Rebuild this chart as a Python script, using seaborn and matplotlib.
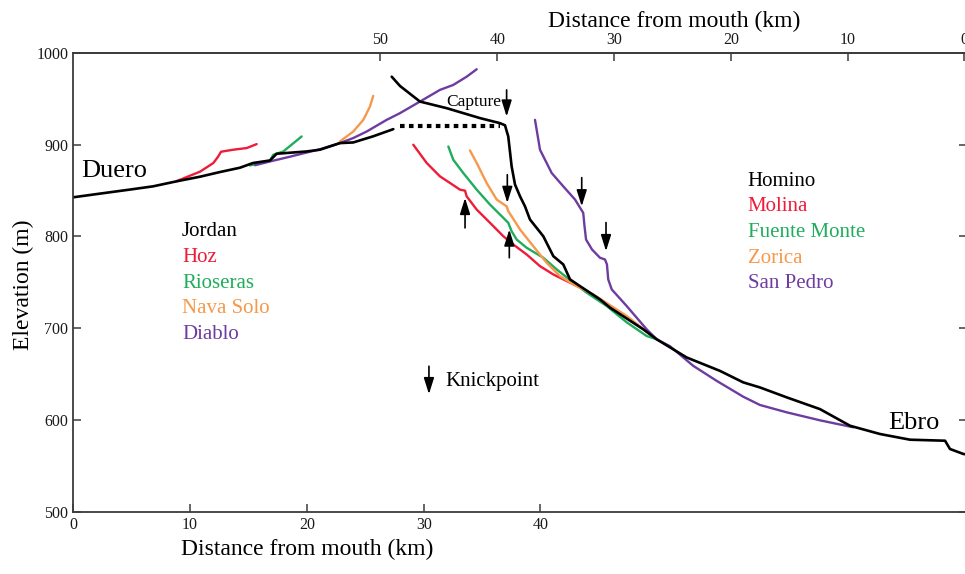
import matplotlib
matplotlib.use("Agg")
import matplotlib.pyplot as plt
import numpy as np
import pandas as pd
import seaborn as sns

# ---------------- data (km from left / elevation m) ----------------
duero_km = [0, 2.29, 4.85, 6.82, 8.85, 10.85, 12.56, 14.27, 15.38, 16.84, 17.41, 18.55,
            19.98, 21.12, 22.83, 23.97, 25.68, 27.4]
duero_el = [842.6, 846.6, 851, 854.5, 860, 865, 870.1, 874.8, 879.9, 882.7, 890, 891.1,
            892.5, 894.4, 901.6, 902.3, 909, 916.8]

capture_km = [28.0, 36.5]
capture_el = [919.7, 919.7]

ebro_km = [27.26, 27.97, 29.68, 31.97, 34.82, 36.53, 36.96, 37.24, 37.53, 37.82, 38.25, 38.67,
           39.1, 39.67, 40.24, 41.1, 41.95, 42.53, 43.38, 45.09, 45.95, 48.8, 49.95, 52.52,
           55.37, 57.36, 58.79, 61.08, 63.93, 66.5, 69.07, 71.64, 74.64, 75.06, 76.2, 76.8]
ebro_el = [973.9, 963.8, 946.8, 939.6, 928.8, 923.3, 921, 908.8, 876.2, 856.4, 843.6, 832.8,
           818.4, 809.3, 800.2, 778.5, 769.5, 753.2, 745.9, 731.5, 722.5, 698.9, 688, 668.2,
           653.6, 641.1, 635.6, 624.8, 612, 593.9, 584.9, 578.7, 577.6, 568.6, 563.2, 562]

hoz_km = [8.85, 10.85, 11.99, 12.39, 12.65, 13.7, 14.85, 15.7]
hoz_el = [860.2, 870.5, 879.9, 886.7, 892.2, 894.4, 896.2, 900.5]

rioseras_km = [15.13, 16.84, 17.12, 17.98, 19.55]
rioseras_el = [877.3, 882.4, 888.9, 892.5, 908.8]

navasolo_km = [22.83, 23.97, 24.83, 25.4, 25.68]
navasolo_el = [903.4, 914.2, 926.9, 941.4, 953]

diablo_km = [15.56, 16.84, 18.55, 21.12, 22.83, 23.97, 25.12, 26.83, 27.97, 29.68, 31.39,
             32.53, 33.68, 34.54]
diablo_el = [877.5, 881.6, 886.8, 894.9, 901.6, 907.1, 914.2, 926.9, 934.2, 946.8, 959.5,
             964.9, 973.9, 982]

molina_km = [29.11, 30.26, 31.39, 32.25, 33.11, 33.54, 33.68, 34.54, 35.68, 36.82, 37.67,
             38.82, 39.96, 41.1, 42.24, 43.38]
molina_el = [899.8, 879.9, 865.4, 858.2, 850.9, 849.8, 843.6, 829.2, 814.8, 800.2, 791.2,
             780.3, 767.6, 758.6, 751.4, 744.5]

fuente_km = [32.11, 32.53, 33.39, 34.54, 35.68, 36.82, 37.24, 37.53, 37.96, 38.82, 40.24,
             41.39, 42.81, 43.95, 45.67, 47.38, 49.09, 49.95]
fuente_el = [897.9, 883.5, 869, 850.9, 834.6, 820.2, 814.8, 805.6, 796.6, 787.6, 776.8,
             764.1, 749.6, 738.8, 724.2, 706.5, 691.6, 688]

zorica_km = [33.96, 34.54, 35.39, 36.25, 37.1, 37.24, 37.53, 38.25, 39.38, 40.53, 41.67,
             42.81, 44.52, 47.38, 49.37]
zorica_el = [893.6, 879.9, 858.2, 840.1, 832.8, 827.4, 821.9, 807.5, 789.4, 771.3, 756.8,
             747.8, 736.9, 713.4, 693.5]

sanpedro_km = [39.53, 39.96, 40.96, 41.95, 42.96, 43.66, 43.77, 43.9, 44.41, 45.09, 45.52,
               45.69, 45.8, 46.1, 47.38, 49.09, 49.95, 51.08, 53.08, 55.08, 57.36, 58.79,
               61.08, 63.93, 66.78]
sanpedro_el = [926.9, 894.3, 869, 854.5, 840.1, 825.6, 811.1, 796.6, 785.8, 776.8, 774.9,
               769.5, 753.2, 742.3, 724.2, 698.9, 688, 680.5, 659.1, 642.8, 625.5, 616.5,
               608.5, 599.8, 592.2]

# knickpoint arrows: (x, y_tail, y_head)
arrows = [(37.1, 959.5, 930.5),    # capture
          (37.16, 867.2, 836.5),   # Zorica
          (37.33, 776.8, 807.5),   # Fuente Monte (up)
          (33.54, 809.3, 841.9),   # Molina (up)
          (43.53, 864.0, 832.8),   # San Pedro 1
          (45.61, 815.1, 784.0),   # San Pedro 2
          (30.45, 658.7, 628.3)]   # legend key

left_names = ["Jordan", "Hoz", "Rioseras", "Nava Solo", "Diablo"]
right_names = ["Homino", "Molina", "Fuente Monte", "Zorica", "San Pedro"]

bottom_ticks = [0, 10, 20, 30, 40]
top_ticks = [50, 40, 30, 20, 10, 0]
y_ticks = [500, 600, 700, 800, 900, 1000]
MOUTH = 76.3  # bottom-axis km where top-axis distance is 0

# ---------------- styling ----------------
RED, GREEN, ORANGE, PURPLE = "#EE1C3A", "#1FAD5B", "#F7984A", "#6E3CA0"
name_colors = ["black", RED, GREEN, ORANGE, PURPLE]

sns.set_theme(style="ticks")
plt.rcParams["font.family"] = ["Liberation Serif", "DejaVu Serif"]

W, H = 965, 574
fig = plt.figure(figsize=(W / 100, H / 100), dpi=100)
ax = fig.add_axes([73.3 / W, 1 - 512 / H, (966.8 - 73.3) / W, (512 - 52.7) / H])

series = [
    ("Hoz", hoz_km, hoz_el, RED, 1.7),
    ("Rioseras", rioseras_km, rioseras_el, GREEN, 1.7),
    ("Nava Solo", navasolo_km, navasolo_el, ORANGE, 1.7),
    ("Diablo", diablo_km, diablo_el, PURPLE, 1.7),
    ("Molina", molina_km, molina_el, RED, 1.7),
    ("Fuente Monte", fuente_km, fuente_el, GREEN, 1.7),
    ("Zorica", zorica_km, zorica_el, ORANGE, 1.7),
    ("San Pedro", sanpedro_km, sanpedro_el, PURPLE, 1.7),
    ("Duero", duero_km, duero_el, "black", 1.9),
    ("Ebro", ebro_km, ebro_el, "black", 1.9),
]
for name, xs, ys, col, lw in series:
    df = pd.DataFrame({"km": xs, "elev": ys})
    sns.lineplot(data=df, x="km", y="elev", sort=False, estimator=None, color=col,
                 linewidth=lw, ax=ax, legend=False)

# capture dotted line
cap = pd.DataFrame({"km": capture_km, "elev": capture_el})
sns.lineplot(data=cap, x="km", y="elev", sort=False, estimator=None, color="black",
             linewidth=3.0, linestyle=(0, (1.1, 1.05)), ax=ax, legend=False)

for x, yt, yh in arrows:
    ax.annotate("", xy=(x, yh), xytext=(x, yt),
                arrowprops=dict(arrowstyle="-|>,head_length=0.7,head_width=0.22",
                                color="black", lw=1.2, shrinkA=0, shrinkB=0,
                                mutation_scale=14))

# texts
ax.text(36.6, 942, "Capture", fontsize=12.5, ha="right", va="baseline", color="black")
ax.text(0.72, 864.4, "Duero", fontsize=19, ha="left", va="baseline", color="black")
ax.text(69.73, 590.3, "Ebro", fontsize=19, ha="left", va="baseline", color="black")
ax.text(31.82, 637, "Knickpoint", fontsize=15, ha="left", va="baseline", color="black")
for i, (nm, c) in enumerate(zip(left_names, name_colors)):
    ax.text(9.31, 800 - 27.9 * i, nm, fontsize=15, color=c, ha="left", va="baseline")
for i, (nm, c) in enumerate(zip(right_names, name_colors)):
    ax.text(57.74, 855.3 - 27.9 * i, nm, fontsize=15, color=c, ha="left", va="baseline")

# axes
ax.set_xlim(0, 76.5)
ax.set_ylim(500, 1000)
ax.set_xticks(bottom_ticks)
ax.set_yticks(y_ticks)
edge = "#3c3c3c"
for s in ax.spines.values():
    s.set_visible(True)
    s.set_color(edge)
    s.set_linewidth(1.3)
ax.tick_params(axis="both", direction="in", length=6, width=1.1, color=edge,
               labelsize=11.5, labelcolor="#1a1a1a", pad=3.5)
ax.tick_params(axis="y", right=True, labelright=False)

secax = ax.secondary_xaxis("top", functions=(lambda v: MOUTH - v, lambda v: MOUTH - v))
secax.set_xticks(top_ticks)
secax.tick_params(direction="in", length=6, width=1.1, color=edge,
                  labelsize=11.5, labelcolor="#1a1a1a", pad=3.5)
secax.spines["top"].set_color(edge)
secax.spines["top"].set_linewidth(1.3)

ax.set_xlabel("Distance from mouth (km)", fontsize=17, color="black")
ax.xaxis.set_label_coords(20 / 76.5, -0.058)
ax.set_ylabel("Elevation (m)", fontsize=17, color="black")
ax.yaxis.set_label_coords(-0.044, 0.494)
secax.set_xlabel("Distance from mouth (km)", fontsize=17, color="black")
secax.xaxis.set_label_coords(0.672, 1.055, transform=ax.transAxes)

fig.savefig("out.png", dpi=100)
